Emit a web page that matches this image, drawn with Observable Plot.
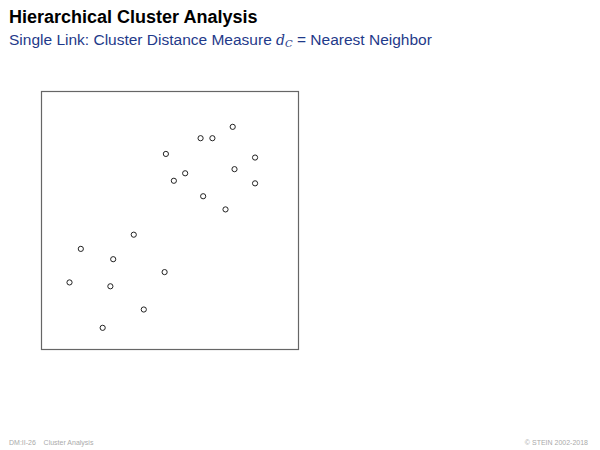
<!DOCTYPE html>
<html>
<head>
<meta charset="utf-8">
<script src="https://cdn.jsdelivr.net/npm/d3@7"></script>
<script src="https://cdn.jsdelivr.net/npm/@observablehq/plot@0.6"></script>
<style>
  html, body { margin: 0; padding: 0; background: #fff; }
  #page { position: relative; width: 600px; height: 450px; overflow: hidden; font-family: "Liberation Sans", Arial, sans-serif; }
  #title { position: absolute; left: 9px; top: 7px; font-size: 18px; font-weight: bold; color: #000; }
  #subtitle { position: absolute; left: 9px; top: 31px; font-size: 15.5px; color: #1f3a8a; }
  #subtitle i { font-family: "DejaVu Serif", serif; font-size: 14px; }
  #subtitle sub { font-size: 10px; vertical-align: -2px; font-style: italic; font-family: "DejaVu Serif", serif; }
  #chart { position: absolute; left: 0; top: 0; }
  .foot { position: absolute; top: 439px; font-size: 7px; color: #aaa; }
</style>
</head>
<body>
<div id="page">
  <div id="chart"></div>
  <div id="title">Hierarchical Cluster Analysis</div>
  <div id="subtitle">Single Link: Cluster Distance Measure <i>d</i><sub>C</sub> = Nearest Neighbor</div>
  <div class="foot" style="left:9px">DM:II-26&nbsp;&nbsp;&nbsp;&nbsp;Cluster Analysis</div>
  <div class="foot" style="right:12px">© STEIN 2002-2018</div>
</div>
<script>
const xs = [7.44, 6.19, 6.65, 4.84, 8.31, 7.51, 5.59, 5.15, 8.31, 6.29, 7.16, 3.59, 1.53, 2.79, 4.79, 1.09, 2.68, 3.98, 2.38];
const ys = [8.63, 8.19, 8.19, 7.58, 7.44, 6.99, 6.83, 6.54, 6.44, 5.94, 5.43, 4.45, 3.90, 3.50, 3.00, 2.60, 2.45, 1.55, 0.84];
const points = xs.map((x, i) => ({x, y: ys[i]}));

const chart = Plot.plot({
  width: 600,
  height: 450,
  marginLeft: 41,
  marginRight: 302,
  marginTop: 91,
  marginBottom: 101,
  x: {domain: [0, 10], axis: null},
  y: {domain: [0, 10], axis: null},
  marks: [
    Plot.frame({stroke: "#666", strokeWidth: 1.2}),
    Plot.dot(points, {x: "x", y: "y", r: 2.6, stroke: "#222", strokeWidth: 1, fill: "white"})
  ]
});
document.getElementById("chart").appendChild(chart);
</script>
</body>
</html>
